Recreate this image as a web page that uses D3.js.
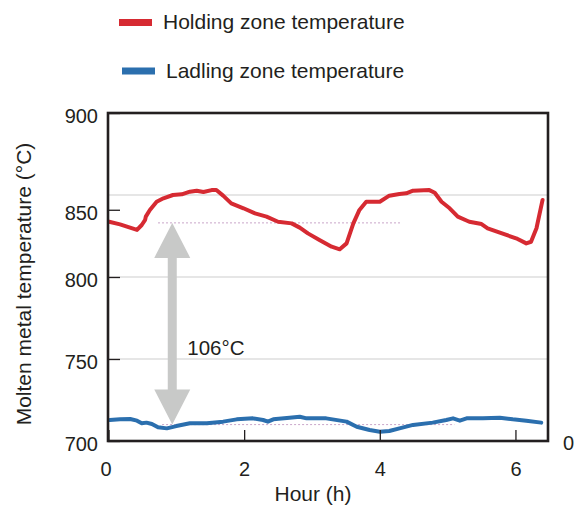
<!DOCTYPE html>
<html>
<head>
<meta charset="utf-8">
<script src="https://cdn.jsdelivr.net/npm/d3@7"></script>
<style>
body { margin: 0; background: #fff; }
text { font-family: "Liberation Sans", Arial, sans-serif; fill: #231f20; }
</style>
</head>
<body>
<div class="canva"></div>
<script>
// holding zone (red)
const hoursHolding = [0.01, 0.17, 0.42, 0.49, 0.54, 0.55, 0.61, 0.71, 0.81, 0.95, 1.08, 1.20, 1.30, 1.40, 1.52, 1.59, 1.69, 1.81, 1.99, 2.16, 2.33, 2.50, 2.70, 2.82, 2.94, 3.11, 3.29, 3.41, 3.51, 3.61, 3.70, 3.80, 4.00, 4.14, 4.29, 4.39, 4.49, 4.73, 4.81, 4.91, 5.03, 5.15, 5.32, 5.50, 5.59, 5.77, 6.01, 6.16, 6.23, 6.31, 6.40]
const tempHolding = [833.7, 832.1, 828.7, 831.7, 834.8, 836.8, 840.9, 845.9, 848, 850, 850.4, 852, 852.6, 851.8, 853, 853, 849.6, 844.9, 841.9, 838.8, 836.8, 833.7, 832.7, 830.1, 826.6, 822.6, 818.5, 816.9, 820.5, 832.7, 840.9, 845.9, 845.9, 849.6, 850.6, 851, 852.6, 853, 851.4, 845.9, 841.9, 836.8, 833.7, 832.3, 829.7, 827, 823.6, 820.5, 821.5, 829.7, 847]

// ladling zone (blue)
const hoursLadling = [0.02, 0.17, 0.32, 0.42, 0.49, 0.56, 0.64, 0.73, 0.86, 1.00, 1.20, 1.45, 1.69, 1.89, 2.13, 2.28, 2.35, 2.43, 2.67, 2.82, 2.92, 3.21, 3.51, 3.66, 3.85, 4.00, 4.14, 4.29, 4.49, 4.78, 4.98, 5.08, 5.18, 5.28, 5.52, 5.77, 5.96, 6.16, 6.38]
const tempLadling = [712.8, 713.2, 713.4, 712.4, 710.8, 711.2, 710.4, 708.4, 707.7, 709.1, 710.8, 710.8, 711.8, 713.2, 713.8, 712.8, 711.8, 713.2, 714.2, 714.8, 713.8, 713.8, 711.8, 708.7, 706.7, 705.7, 706.1, 707.7, 709.8, 711.2, 712.8, 713.8, 712.4, 713.8, 713.8, 714.2, 713.2, 712.4, 711.2]

const seriesNames = ["Holding zone temperature", "Ladling zone temperature"]
const seriesColors = ["#d62a32", "#2b6fae"]

const xTicks = [0, 2, 4, 6]
const yTickLabels = ["700", "750", "800", "850", "900"]
const yTickAt = [700, 750, 800, 841, 900]   // the 850 label sits low in the original
const gridVals = [750, 800, 850]

const refHigh = 833, refHighSpan = [0.73, 4.32]
const refLow = 710, refLowSpan = [0.79, 5.10]
const arrowHour = 0.94
const gapLabel = "106°C"
const rightLabel = "0"


const svg = d3.select('.canva').append('svg')
  .attr('width', 576).attr('height', 507)

const x = d3.scaleLinear().domain([0, 6.48]).range([108.5, 548])
const y = d3.scaleLinear().domain([700, 900]).range([441, 113])

// grid
svg.selectAll('.grid').data(gridVals)
  .enter().append('line')
  .attr('x1', x(0)).attr('x2', x(6.48))
  .attr('y1', d => y(d)).attr('y2', d => y(d))
  .attr('stroke', '#cdcdcd').attr('stroke-width', 1.2)

// dotted reference levels
svg.append('line')
  .attr('x1', x(refHighSpan[0])).attr('x2', x(refHighSpan[1]))
  .attr('y1', y(refHigh)).attr('y2', y(refHigh))
  .attr('stroke', '#c9a5c9').attr('stroke-width', 1).attr('stroke-dasharray', '2,2')
svg.append('line')
  .attr('x1', x(refLowSpan[0])).attr('x2', x(refLowSpan[1]))
  .attr('y1', y(refLow)).attr('y2', y(refLow))
  .attr('stroke', '#c9a5c9').attr('stroke-width', 1).attr('stroke-dasharray', '2,2')

// double arrow
const cx = x(arrowHour), ty = y(refHigh), by = y(refLow)
const hw = 18, hl = 35, sw = 4.5
const pts = [[cx, ty], [cx + hw, ty + hl], [cx + sw, ty + hl], [cx + sw, by - hl], [cx + hw, by - hl],
  [cx, by], [cx - hw, by - hl], [cx - sw, by - hl], [cx - sw, ty + hl], [cx - hw, ty + hl]]
svg.append('path')
  .attr('d', 'M' + pts.map(p => p.join(',')).join('L') + 'Z')
  .attr('fill', '#c8c9c8')

svg.append('text').text(gapLabel)
  .attr('x', cx + 15).attr('y', 355)
  .attr('font-size', 20.5)

// lines
const line = d3.line().x(d => x(d[0])).y(d => y(d[1]))

svg.append('path')
  .datum(d3.zip(hoursHolding, tempHolding))
  .attr('d', line)
  .attr('fill', 'none').attr('stroke', seriesColors[0])
  .attr('stroke-width', 4).attr('stroke-linejoin', 'round').attr('stroke-linecap', 'round')

svg.append('path')
  .datum(d3.zip(hoursLadling, tempLadling))
  .attr('d', line)
  .attr('fill', 'none').attr('stroke', seriesColors[1])
  .attr('stroke-width', 4).attr('stroke-linejoin', 'round').attr('stroke-linecap', 'round')

// axes
const yAxis = d3.axisLeft(y).tickValues(yTickAt)
  .tickFormat((d, i) => yTickLabels[i])
  .tickSize(-12).tickPadding(10)
const gy = svg.append('g').attr('transform', 'translate(108,0)').call(yAxis)
  .attr('font-size', 20).attr('font-family', null).attr('color', '#231f20')
gy.select('.domain').remove()
gy.selectAll('line').attr('stroke-width', 1.3)
gy.selectAll('text').attr('dy', '0.47em')

const xAxis = d3.axisBottom(x).tickValues(xTicks).tickFormat(d3.format('d'))
  .tickSize(-11).tickPadding(21)
const gx = svg.append('g').attr('transform', 'translate(0,441)').call(xAxis)
  .attr('font-size', 20).attr('font-family', null).attr('color', '#231f20')
gx.select('.domain').remove()
gx.selectAll('line').attr('stroke-width', 1.3)
gx.selectAll('text').filter(d => d === 0).attr('dx', -3)

// frame
svg.append('rect')
  .attr('x', 108).attr('y', 113).attr('width', 440).attr('height', 328)
  .attr('fill', 'none').attr('stroke', '#231f20').attr('stroke-width', 2.6)

svg.append('text').text(rightLabel)
  .attr('x', 563).attr('y', 450).attr('font-size', 20)

// titles
svg.append('text').text('Hour (h)')
  .attr('x', 313).attr('y', 501).attr('text-anchor', 'middle').attr('font-size', 21)

svg.append('text').text('Molten metal temperature (°C)')
  .attr('transform', 'translate(31,284) rotate(-90)')
  .attr('text-anchor', 'middle').attr('font-size', 21)

// legend
seriesNames.forEach((name, i) => {
  const yc = 22.5 + i * 48.5
  svg.append('rect')
    .attr('x', 119 + i * 3).attr('y', yc - 3.5).attr('width', 33).attr('height', 7)
    .attr('fill', seriesColors[i])
  svg.append('text').text(name)
    .attr('x', 163 + i * 3).attr('y', yc + 6.8).attr('font-size', 21)
})
</script>
</body>
</html>
